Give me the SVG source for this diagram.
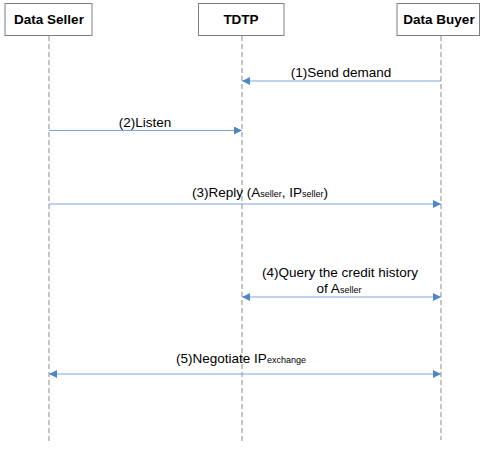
<svg xmlns="http://www.w3.org/2000/svg" width="482" height="449" viewBox="0 0 482 449">
<style>
  .box { fill: #ffffff; stroke: #7f7f7f; stroke-width: 1; }
  .title { font-family: "Liberation Sans", Arial, sans-serif; font-size: 13.5px; font-weight: bold; fill: #000; text-anchor: middle; }
  .life { stroke: #8a8a8a; stroke-width: 1; stroke-dasharray: 5 3; fill: none; }
  .msg { stroke: #7aa7d8; stroke-width: 1.2; fill: none; }
  .lbl { font-family: "Liberation Sans", Arial, sans-serif; font-size: 13.5px; fill: #000; text-anchor: middle; }
  .sub { font-size: 9px; }
</style>
<defs>
  <marker id="ah" viewBox="0 0 10 10" refX="10" refY="5" markerWidth="11" markerHeight="8" markerUnits="userSpaceOnUse" orient="auto-start-reverse">
    <path d="M0,0 L10,5 L0,10 z" fill="#4f86c6"/>
  </marker>
</defs>

<g id="lifelines">
  <line class="life" x1="49" y1="36" x2="49" y2="442"/>
  <line class="life" x1="242" y1="36" x2="242" y2="442"/>
  <line class="life" x1="441" y1="36" x2="441" y2="440"/>
</g>

<g id="data-seller">
  <rect class="box" x="5" y="3.5" width="87" height="32"/>
  <text class="title" x="49" y="24">Data Seller</text>
</g>
<g id="tdtp">
  <rect class="box" x="198.5" y="3.5" width="85.5" height="32"/>
  <text class="title" x="241" y="24">TDTP</text>
</g>
<g id="data-buyer">
  <rect class="box" x="397" y="3.5" width="82.5" height="32"/>
  <text class="title" x="439" y="24">Data Buyer</text>
</g>

<g id="connectors">
  <line class="msg" x1="441" y1="81" x2="242" y2="81" marker-end="url(#ah)"/>
  <text class="lbl" x="341" y="77">(1)Send demand</text>

  <line class="msg" x1="49" y1="130.5" x2="242" y2="130.5" marker-end="url(#ah)"/>
  <text class="lbl" x="145" y="127">(2)Listen</text>

  <line class="msg" x1="49" y1="204" x2="441" y2="204" marker-end="url(#ah)"/>
  <text class="lbl" x="260" y="197">(3)Reply (A<tspan class="sub">seller</tspan>, IP<tspan class="sub">seller</tspan>)</text>

  <line class="msg" x1="242" y1="297" x2="441" y2="297" marker-start="url(#ah)" marker-end="url(#ah)"/>
  <text class="lbl" x="340" y="277">(4)Query the credit history</text>
  <text class="lbl" x="339" y="293">of A<tspan class="sub">seller</tspan></text>

  <line class="msg" x1="49" y1="374" x2="441" y2="374" marker-start="url(#ah)" marker-end="url(#ah)"/>
  <text class="lbl" x="241" y="363">(5)Negotiate IP<tspan class="sub">exchange</tspan></text>
</g>
</svg>
